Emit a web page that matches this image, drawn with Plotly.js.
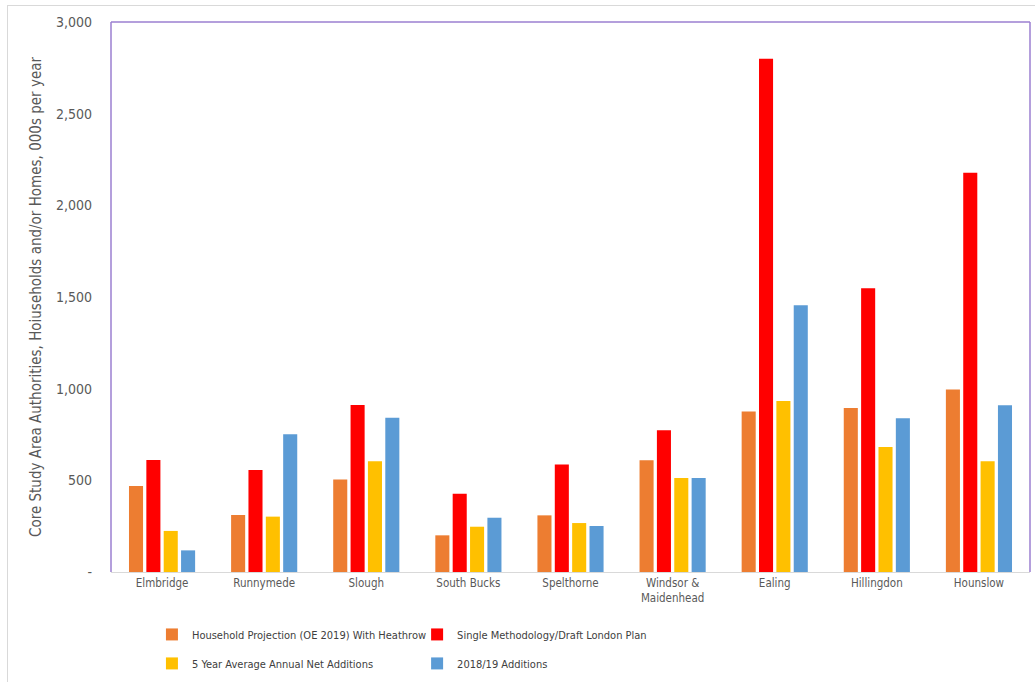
<!DOCTYPE html>
<html><head><meta charset="utf-8">
<script src="https://cdn.plot.ly/plotly-3.0.1.min.js"></script>
<style>
html,body{margin:0;padding:0;background:#fff;overflow:hidden;}
#frame{position:absolute;left:7px;top:5px;width:1040px;height:700px;border:1px solid #d9d9d9;box-sizing:border-box;}
#chart{position:absolute;left:0;top:0;width:1035px;height:682px;}
</style></head>
<body><div id="frame"></div><div id="chart"></div>
<script>
const categories = ["Elmbridge","Runnymede","Slough","South Bucks","Spelthorne","Windsor &<br>Maidenhead","Ealing","Hillingdon","Hounslow"];
const householdProjection = [469, 311, 505, 200, 309, 609, 876, 895, 995];
const singleMethodology = [611, 556, 911, 427, 587, 773, 2800, 1548, 2178];
const fiveYearAverage = [224, 302, 604, 247, 267, 513, 933, 682, 604];
const additions201819 = [118, 751, 842, 296, 251, 513, 1455, 838, 909];
const seriesNames = ["Household Projection (OE 2019) With Heathrow","Single Methodology/Draft London Plan","5 Year Average Annual Net Additions","2018/19 Additions"];
const yTickVals = [0, 500, 1000, 1500, 2000, 2500, 3000];
const yTickText = ["-", "500", "1,000", "1,500", "2,000", "2,500", "3,000"];

const colors = ["#ED7D31", "#FF0000", "#FFC000", "#5B9BD5"];
const seriesData = [householdProjection, singleMethodology, fiveYearAverage, additions201819];
const legendIds = ["legend", "legend2", "legend3", "legend4"];
const FONT = "'DejaVu Sans Condensed', Arial, sans-serif";

const traces = seriesData.map((vals, i) => ({
  type: "bar", x: categories, y: vals, name: seriesNames[i],
  marker: {color: colors[i]}, legend: legendIds[i], hoverinfo: "none"
}));

const legendCommon = {
  orientation: "h", xanchor: "left", yanchor: "top", xref: "container", yref: "container",
  bgcolor: "rgba(0,0,0,0)",
  font: {family: FONT, size: 11, color: "#404040"}, itemwidth: 30
};
const legPos = [[0.1468, 0.0910], [0.4030, 0.0910], [0.1468, 0.0485], [0.4030, 0.0485]];

const layout = {
  width: 1035, height: 682,
  margin: {l: 111, r: 5, t: 22, b: 110},
  paper_bgcolor: "rgba(0,0,0,0)", plot_bgcolor: "#fff",
  font: {family: FONT, color: "#595959"},
  barmode: "group", bargap: 0.32, bargroupgap: 0.19,
  showlegend: true,
  xaxis: {
    type: "category", showgrid: false, zeroline: false,
    showline: true, linecolor: "#d9d9d9", linewidth: 1,
    tickfont: {family: FONT, size: 11.5, color: "#595959"}, ticks: "", automargin: false
  },
  yaxis: {
    range: [0, 3000], tickvals: yTickVals, ticktext: yTickText,
    showgrid: false, zeroline: false, showline: false, ticks: "",
    ticklabelstandoff: 18,
    tickfont: {family: FONT, size: 14, color: "#595959"}, automargin: false,
    title: {text: "Core Study Area Authorities, Hoiuseholds and/or Homes, 000s per year",
            font: {family: FONT, size: 15, color: "#595959"}, standoff: 10}
  },
  shapes: [
    {type: "line", xref: "paper", yref: "paper", x0: 0, x1: 0, y0: 0, y1: 1, line: {color: "#9B7FD0", width: 1.5}},
    {type: "line", xref: "paper", yref: "paper", x0: 0, x1: 1, y0: 1, y1: 1, line: {color: "#9B7FD0", width: 1.5}},
    {type: "line", xref: "paper", yref: "paper", x0: 1, x1: 1, y0: 0, y1: 1, line: {color: "#9B7FD0", width: 1.5}}
  ]
};
legendIds.forEach((id, i) => {
  layout[id] = Object.assign({}, legendCommon, {x: legPos[i][0], y: legPos[i][1]});
});

Plotly.newPlot("chart", traces, layout, {displayModeBar: false, staticPlot: true});
</script></body></html>
